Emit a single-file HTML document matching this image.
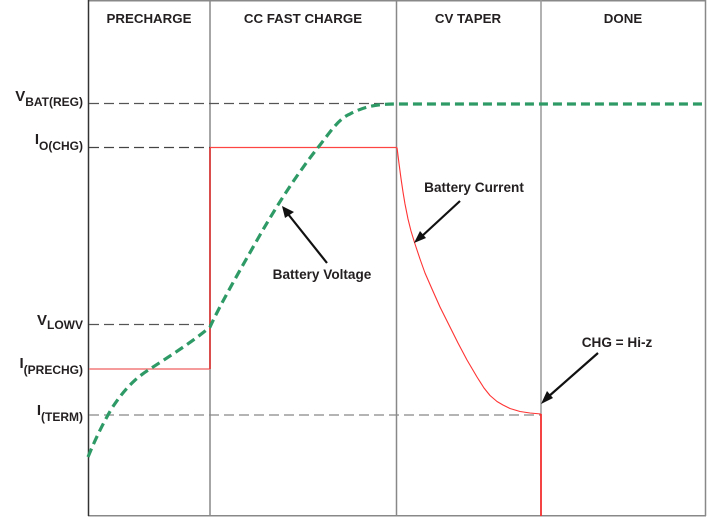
<!DOCTYPE html>
<html><head><meta charset="utf-8"><style>
html,body{margin:0;padding:0;background:#fff;}
svg{display:block;}
text{font-family:"Liberation Sans",Arial,sans-serif;font-weight:bold;fill:#231f20;}
</style></head><body>
<svg width="707" height="517" viewBox="0 0 707 517" xmlns="http://www.w3.org/2000/svg">
<!-- frame -->
<line x1="88" y1="0.7" x2="706" y2="0.7" stroke="#888" stroke-width="1.5"/>
<line x1="705.5" y1="0" x2="705.5" y2="516" stroke="#888" stroke-width="1.5"/>
<line x1="88" y1="515.8" x2="706" y2="515.8" stroke="#888" stroke-width="1.5"/>
<line x1="88.5" y1="0" x2="88.5" y2="516" stroke="#333" stroke-width="1.5"/>
<line x1="210" y1="0" x2="210" y2="516" stroke="#888" stroke-width="1.5"/>
<line x1="396.5" y1="0" x2="396.5" y2="516" stroke="#888" stroke-width="1.5"/>
<line x1="541" y1="0" x2="541" y2="516" stroke="#999" stroke-width="1.5"/>

<!-- headers -->
<text x="149" y="23" font-size="13.3" text-anchor="middle">PRECHARGE</text>
<text x="303" y="23" font-size="13.3" text-anchor="middle">CC FAST CHARGE</text>
<text x="468" y="23" font-size="13.3" text-anchor="middle">CV TAPER</text>
<text x="623" y="23" font-size="13.3" text-anchor="middle">DONE</text>

<!-- dashed reference lines -->
<g stroke-width="1.2" stroke-dasharray="10,5" fill="none">
<line x1="89" y1="103.5" x2="392" y2="103.5" stroke="#555"/>
<line x1="89" y1="147.5" x2="210" y2="147.5" stroke="#444"/>
<line x1="89" y1="324.5" x2="210" y2="324.5" stroke="#555"/>
<line x1="89" y1="415" x2="541" y2="415" stroke="#888"/>
</g>

<!-- y labels -->
<text x="83" y="106" text-anchor="end" font-size="12"><tspan font-size="15" dy="-5">V</tspan><tspan dy="5">BAT(REG)</tspan></text>
<text x="83" y="150" text-anchor="end" font-size="12"><tspan font-size="15" dy="-6">I</tspan><tspan dy="6">O(CHG)</tspan></text>
<text x="83" y="329" text-anchor="end" font-size="12"><tspan font-size="15" dy="-4">V</tspan><tspan dy="4">LOWV</tspan></text>
<text x="83" y="374" text-anchor="end" font-size="12"><tspan font-size="15" dy="-6">I</tspan><tspan dy="6">(PRECHG)</tspan></text>
<text x="83" y="421" text-anchor="end" font-size="12"><tspan font-size="15" dy="-6">I</tspan><tspan dy="6">(TERM)</tspan></text>

<!-- current (red) -->
<polyline points="89,369 210,369" stroke="#f47a7a" stroke-width="1.5" fill="none"/>
<line x1="210" y1="369" x2="210" y2="147.5" stroke="#e03030" stroke-width="1.6"/>
<line x1="210" y1="147.5" x2="397" y2="147.5" stroke="#f44" stroke-width="1.2"/>
<polyline points="397,147.5 399,163.5 401,178.5 403,192 405,204 408,219 411,231 415,244 420,259 425,273 432,289 440,307 450,327 458,343 467,360 477,377 484,388 490,395.5 497,401.5 503,405 510,408.5 520,411.5 530,413 541,414" stroke="#f33" stroke-width="1.1" fill="none" stroke-linejoin="round"/>
<line x1="541" y1="414" x2="541" y2="516" stroke="#f22" stroke-width="1.6"/>

<!-- voltage (green dashed) -->
<path d="M88,457 C95,440 102,425 112,408 C125,388 137,377 150,369 C170,356 195,340 210,327 C220,305 240,270 260,235 C280,200 300,170 320,145 C333,128 340,118 350,114 C365,106 378,104 396,104 L706,104" stroke="#2e9a66" stroke-width="3.2" stroke-dasharray="9,5" fill="none"/>

<!-- annotations -->
<g stroke="#111" stroke-width="2.2" fill="#111">
<line x1="327" y1="263" x2="288" y2="214"/>
<polygon points="282,206 294,212 285,218" stroke="none"/>
<line x1="460" y1="201" x2="421" y2="237"/>
<polygon points="414,243 420,231 426,238" stroke="none"/>
<line x1="598" y1="353" x2="548" y2="397"/>
<polygon points="541,404 547,391 553,398" stroke="none"/>
</g>
<text x="322" y="279" font-size="13.6" text-anchor="middle">Battery Voltage</text>
<text x="474" y="192" font-size="13.6" text-anchor="middle">Battery Current</text>
<text x="617" y="347" font-size="13.6" text-anchor="middle">CHG = Hi-z</text>
</svg>
</body></html>
